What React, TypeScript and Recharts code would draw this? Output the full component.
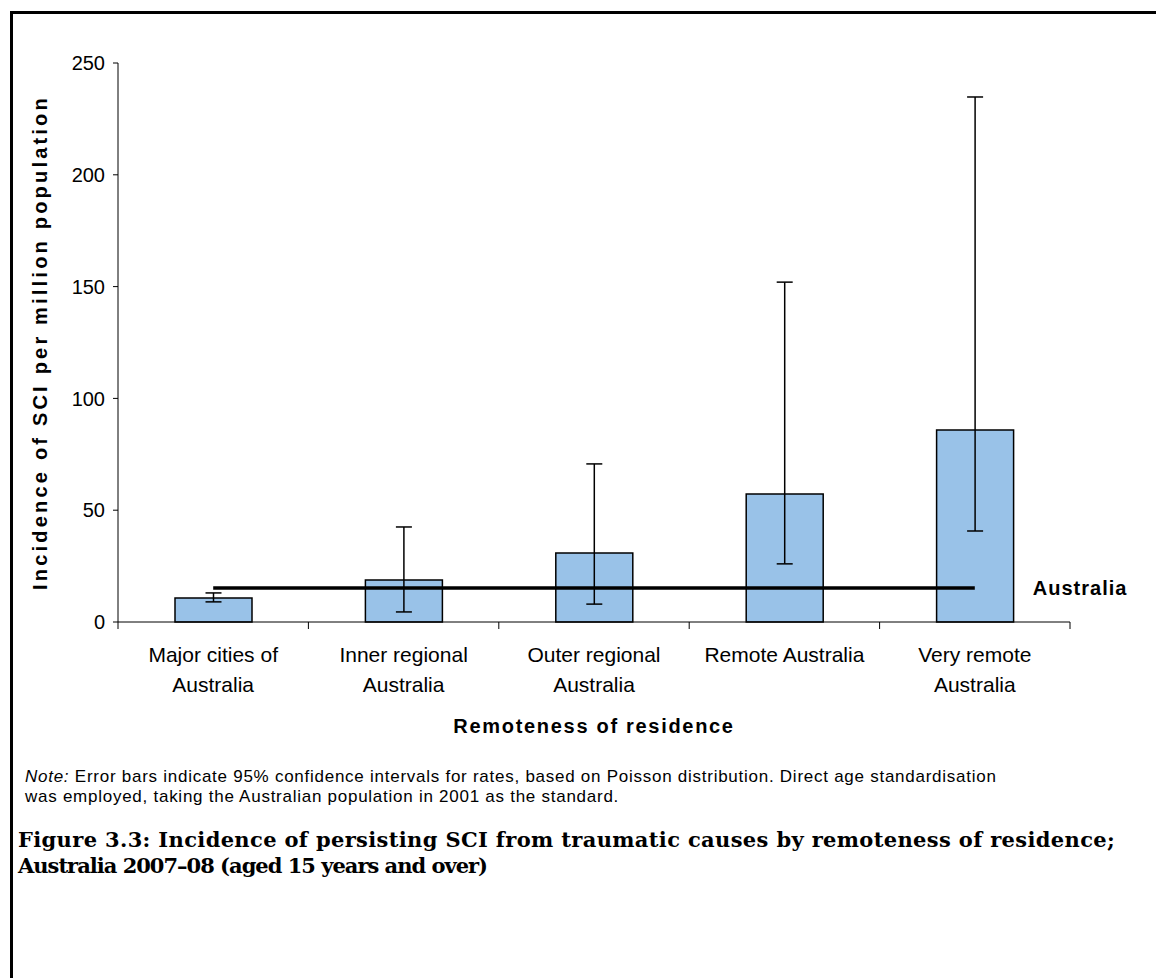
import React from "react";
import {
  ComposedChart, Bar, Line, XAxis, YAxis, ErrorBar, Label, LabelList,
} from "recharts";

// incidence per million population
const categories = [
  "Major cities of\nAustralia",
  "Inner regional\nAustralia",
  "Outer regional\nAustralia",
  "Remote Australia",
  "Very remote\nAustralia",
];
const rates = [10.7, 18.8, 30.9, 57.2, 85.9];
const lowerCI = [9, 4.5, 8, 26, 40.7];
const upperCI = [13, 42.5, 70.7, 152, 234.8];
const australiaRate = 15.2;
const yTicks = [0, 50, 100, 150, 200, 250];

const data = categories.map((name, i) => ({
  name,
  rate: rates[i],
  err: [rates[i] - lowerCI[i], upperCI[i] - rates[i]],
  australia: australiaRate,
}));

const FONT = "'Liberation Sans', Arial, sans-serif";

const CategoryTick = (props: any) => {
  const { x, y, payload, index } = props;
  const half = props.width && props.visibleTicksCount ? props.width / props.visibleTicksCount / 2 : 95.2;
  const lines = String(payload.value).split("\n");
  return (
    <g>
      <line x1={x - half} y1={y} x2={x - half} y2={y + 7} stroke="#000" strokeWidth={1} />
      {index === categories.length - 1 && (
        <line x1={x + half} y1={y} x2={x + half} y2={y + 7} stroke="#000" strokeWidth={1} />
      )}
      <text textAnchor="middle" fontFamily={FONT} fontSize={21} fill="#000">
        {lines.map((l, i) => (
          <tspan key={i} x={x} y={y + 40 + i * 30}>{l}</tspan>
        ))}
      </text>
    </g>
  );
};

const AustraliaLabel = (props: any) => {
  const { x, y, index } = props;
  if (index !== categories.length - 1) return null;
  return (
    <text x={x + 58} y={y + 7} fontFamily={FONT} fontSize={20} fontWeight="bold" letterSpacing={1} fill="#000">
      Australia
    </text>
  );
};

export default function App() {
  return (
    <div style={{ position: "absolute", left: 0, top: 0, width: 1156, height: 978, overflow: "hidden", background: "#fff" }}>
      <div style={{ position: "absolute", left: 10, top: 11, width: 1200, height: 1000, borderLeft: "3px solid #000", borderTop: "3px solid #000" }} />
      <div style={{ position: "absolute", left: 0, top: 0 }}>
        <ComposedChart width={1156} height={760} data={data} margin={{ top: 63, right: 86, bottom: 23, left: 25 }}>
          <YAxis
            width={93}
            domain={[0, 250]}
            ticks={yTicks}
            interval={0}
            tick={{ fontSize: 20, fill: "#000", fontFamily: FONT }}
            axisLine={{ stroke: "#000" }}
            tickLine={{ stroke: "#000" }}
            tickSize={5}
            tickMargin={8}
          >
            <Label
              value="Incidence of SCI per million population"
              angle={-90}
              position="insideLeft"
              offset={15}
              style={{ textAnchor: "middle", fontFamily: FONT, fontSize: 20, fontWeight: "bold", fill: "#000", letterSpacing: 3.2 }}
            />
          </YAxis>
          <XAxis
            dataKey="name"
            height={115}
            interval={0}
            tick={<CategoryTick />}
            tickLine={false}
            tickSize={0}
            tickMargin={0}
            axisLine={{ stroke: "#000" }}
          >
            <Label
              value="Remoteness of residence"
              position="insideBottom"
              offset={4}
              style={{ fontFamily: FONT, fontSize: 20, fontWeight: "bold", fill: "#000", letterSpacing: 1.7 }}
            />
          </XAxis>
          <Bar dataKey="rate" fill="#99C2E8" stroke="#000" strokeWidth={1.5} barSize={77} isAnimationActive={false}>
            <ErrorBar dataKey="err" width={8} stroke="#000" strokeWidth={1.5} direction="y" />
          </Bar>
          <Line
            dataKey="australia"
            stroke="#000"
            strokeWidth={3.5}
            dot={false}
            activeDot={false}
            type="linear"
            isAnimationActive={false}
          >
            <LabelList dataKey="australia" content={<AustraliaLabel />} />
          </Line>
        </ComposedChart>
      </div>
      <div style={{ position: "absolute", left: 25, top: 767, fontFamily: FONT, fontSize: 17, letterSpacing: 0.74, lineHeight: "20px", color: "#000", whiteSpace: "nowrap" }}>
        <i>Note:</i> Error bars indicate 95% confidence intervals for rates, based on Poisson distribution. Direct age standardisation
        <br />
        was employed, taking the Australian population in 2001 as the standard.
      </div>
      <div style={{ position: "absolute", left: 18, top: 827, fontFamily: "'DejaVu Serif', serif", fontSize: 21, fontWeight: "bold", lineHeight: "26px", color: "#000", whiteSpace: "nowrap" }}>
        <span style={{ letterSpacing: 0.35 }}>Figure 3.3: Incidence of persisting SCI from traumatic causes by remoteness of residence;</span>
        <br />
        <span style={{ letterSpacing: -1 }}>Australia 2007–08 (aged 15 years and over)</span>
      </div>
    </div>
  );
}
